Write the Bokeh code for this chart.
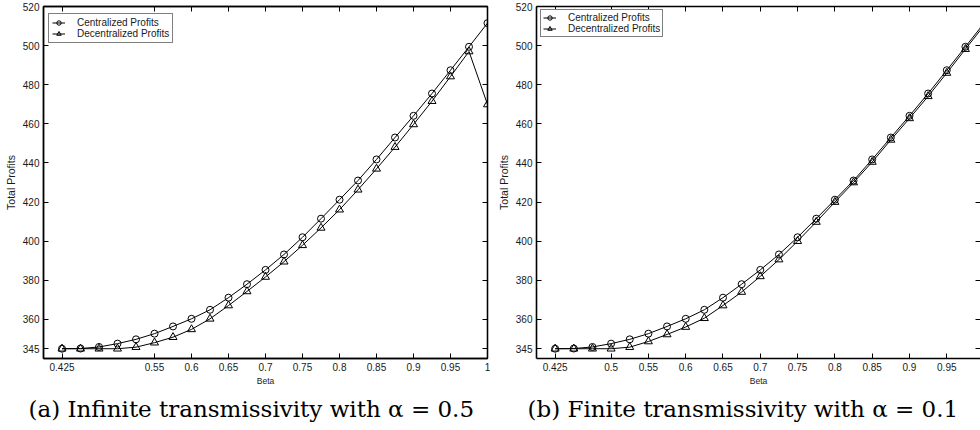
from bokeh.plotting import figure
from bokeh.layouts import row
from bokeh.models import (FixedTicker, CustomJSTickFormatter, LinearAxis, Range1d,
                          Legend, LegendItem, ColumnDataSource)
from bokeh.embed import file_html
from bokeh.resources import INLINE

# ---------------- data ----------------
beta = [0.425, 0.45, 0.475, 0.5, 0.525, 0.55, 0.575, 0.6, 0.625, 0.65, 0.675, 0.7,
        0.725, 0.75, 0.775, 0.8, 0.825, 0.85, 0.875, 0.9, 0.925, 0.95, 0.975, 1.0]
centralized = [345.0, 345.1, 345.9, 347.6, 349.8, 352.7, 356.4, 360.3, 364.9, 371.1, 378.0, 385.3,
               393.2, 402.0, 411.5, 421.2, 431.0, 441.8, 453.0, 464.1, 475.5, 487.4, 499.4, 511.5]
decentralized_a = [345.0, 345.0, 345.0, 345.0, 345.8, 348.1, 350.9, 354.9, 360.3, 367.1, 374.3, 381.7,
                   389.5, 397.9, 406.8, 416.1, 426.3, 437.0, 448.1, 459.7, 471.6, 484.2, 497.0, 469.9]
decentralized_b = [345.0, 345.0, 345.0, 345.0, 345.8, 348.7, 352.3, 356.1, 360.6, 367.1, 374.0, 382.0,
                   390.6, 400.0, 409.8, 420.0, 430.0, 440.5, 451.8, 462.8, 474.1, 486.0, 498.2, 510.3]

y_ticks = [345, 360, 380, 400, 420, 440, 460, 480, 500, 520]
x_ticks_a = [0.425, 0.55, 0.6, 0.65, 0.7, 0.75, 0.8, 0.85, 0.9, 0.95, 1.0]
x_ticks_b = [0.425, 0.5, 0.55, 0.6, 0.65, 0.7, 0.75, 0.8, 0.85, 0.9, 0.95, 1.0]
series_labels = ["Centralized Profits", "Decentralized Profits"]
x_label = "Beta"
y_label = "Total Profits"
captions = ["(a) Infinite transmissivity with \u03b1 = 0.5",
            "(b) Finite transmissivity with \u03b1 = 0.1"]

SANS = "Liberation Sans"
fmt = CustomJSTickFormatter(code="return String(parseFloat(tick.toFixed(3)));")
blank = CustomJSTickFormatter(code="return '';")


def hidden_axis(ticker):
    ax = LinearAxis(ticker=ticker, formatter=blank)
    ax.major_label_text_font_size = "0px"
    ax.major_label_standoff = 0
    ax.major_tick_in = 5
    ax.major_tick_out = 0
    ax.minor_tick_in = 0
    ax.minor_tick_out = 0
    ax.axis_line_width = 1.3
    return ax


def panel(x_end, x_ticks, dec, caption, border_left, border_right, legend_top,
          legend_left, row_h, pad, show_right_line, cap_offset):
    p = figure(width=490, height=430, output_backend="svg", toolbar_location=None,
               x_range=Range1d(0.4, x_end), y_range=Range1d(340, 520),
               min_border_left=border_left, min_border_right=border_right,
               min_border_top=6, min_border_bottom=72,
               title=caption, title_location="below")
    p.grid.visible = False
    p.background_fill_color = "white"
    p.border_fill_color = "white"
    if show_right_line:
        p.outline_line_color = "black"
        p.outline_line_width = 1.3
    else:
        p.outline_line_color = None

    xt = FixedTicker(ticks=x_ticks)
    yt = FixedTicker(ticks=y_ticks)

    for ax in (p.xaxis[0], p.yaxis[0]):
        ax.major_tick_in = 5
        ax.major_tick_out = 0
        ax.minor_tick_in = 0
        ax.minor_tick_out = 0
        ax.axis_line_width = 1.6
        ax.axis_line_color = "black"
        ax.major_tick_line_color = "black"
        ax.major_label_text_font = SANS
        ax.major_label_text_font_size = "10px"
        ax.major_label_text_color = "#1a1a1a"
        ax.axis_label_text_font = SANS
        ax.axis_label_text_font_style = "normal"
        ax.axis_label_text_color = "#1a1a1a"
    p.xaxis[0].ticker = xt
    p.xaxis[0].formatter = fmt
    p.xaxis[0].major_label_standoff = 4
    p.xaxis[0].axis_label = x_label
    p.xaxis[0].axis_label_text_font_size = "8.5px"
    p.xaxis[0].axis_label_standoff = 2
    p.yaxis[0].ticker = yt
    p.yaxis[0].major_label_standoff = 4
    p.yaxis[0].axis_label = y_label
    p.yaxis[0].axis_label_text_font_size = "10.5px"
    p.yaxis[0].axis_label_standoff = 3

    p.add_layout(hidden_axis(xt), "above")
    right = hidden_axis(yt)
    if not show_right_line:
        right.axis_line_color = None
    p.add_layout(right, "right")

    src = ColumnDataSource(dict(x=beta, c=centralized, d=dec))
    l1 = p.line("x", "c", source=src, line_color="black", line_width=1)
    s1 = p.scatter("x", "c", source=src, marker="circle", size=7, fill_color=None,
                   line_color="black", line_width=1)
    l2 = p.line("x", "d", source=src, line_color="black", line_width=1)
    s2 = p.scatter("x", "d", source=src, marker="triangle", size=8, fill_color=None,
                   line_color="black", line_width=1)

    leg = Legend(items=[LegendItem(label=series_labels[0], renderers=[l1, s1]),
                        LegendItem(label=series_labels[1], renderers=[l2, s2])])
    leg.label_text_font = SANS
    leg.label_text_font_size = "10px"
    leg.label_text_color = "#1a1a1a"
    leg.glyph_width = 13
    leg.glyph_height = row_h
    leg.label_height = row_h
    leg.label_standoff = 12
    leg.padding = pad
    leg.spacing = 0
    leg.margin = 0
    leg.border_line_color = "black"
    leg.border_line_width = 1
    leg.background_fill_color = "white"
    leg.background_fill_alpha = 1
    frame_h = 352
    leg_h = 2 * row_h + 2 * pad
    leg.location = (legend_left, frame_h - legend_top - leg_h)
    p.add_layout(leg)

    p.title.align = "left"
    p.title.offset = cap_offset
    p.title.text_font = "DejaVu Serif"
    p.title.text_font_size = "23px"
    p.title.text_font_style = "normal"
    p.title.text_color = "black"
    return p


pa = panel(1.0, x_ticks_a, decentralized_a, captions[0], 43, 3, 9, 5, 11, 3, True, -15)
pb = panel(0.9952, x_ticks_b, decentralized_b, captions[1], 46, 0, 5, 4, 11, 2, False, -9)

layout = row(pa, pb, spacing=0)
open("out.html", "w").write(file_html(layout, INLINE))
